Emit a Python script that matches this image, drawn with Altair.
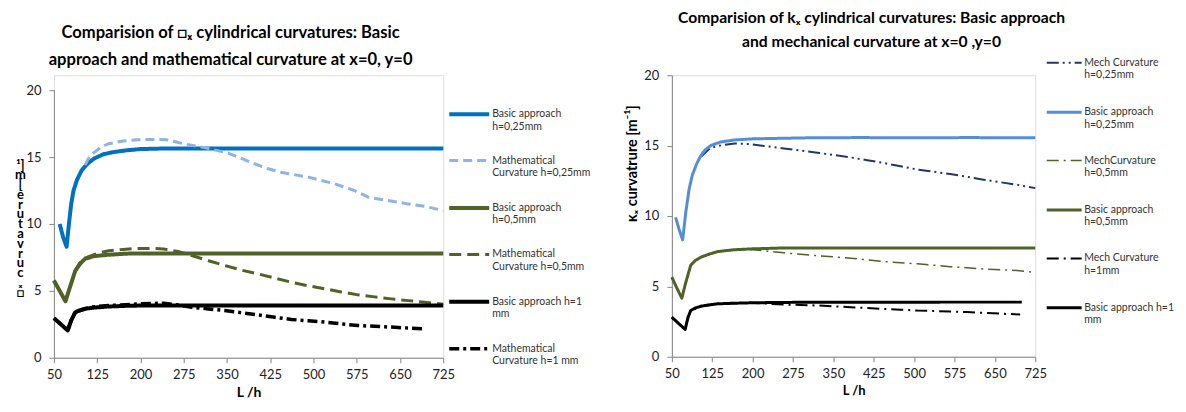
import altair as alt
import pandas as pd

FONT = "Lato"

# ---------------- Left panel: basic approach vs mathematical curvature ----------------
left_names = [
    "Basic approach|h=0,25mm",
    "Mathematical|Curvature h=0,25mm",
    "Basic approach|h=0,5mm",
    "Mathematical|Curvature h=0,5mm",
    "Basic approach  h=1|mm",
    "Mathematical|Curvature h=1 mm",
]
left_colors = ["#0070C0", "#8DB4E2", "#4F6228", "#4F6228", "#000000", "#000000"]
left_dashes = [[1, 0], [9, 5], [1, 0], [12, 6], [1, 0], [10, 4, 3, 4]]
left_widths = [4, 3, 4, 3, 4, 3.5]

lb025_L = [60, 66, 72, 76, 80, 84, 90, 98, 108, 120, 135, 150, 175, 200, 250, 300, 400, 500, 600, 725]
lb025_k = [10.0, 9.0, 8.3, 10.0, 11.5, 12.5, 13.3, 14.0, 14.5, 14.9, 15.2, 15.35, 15.5, 15.6, 15.65, 15.65, 15.65, 15.65, 15.65, 15.65]

lm025_L = [104, 110, 116, 130, 145, 170, 194, 220, 245, 274, 300, 317, 352, 375, 398, 420, 445, 491, 537, 571, 595, 629, 664, 695, 725]
lm025_k = [14.4, 14.9, 15.2, 15.7, 16.0, 16.2, 16.3, 16.32, 16.3, 16.0, 15.8, 15.65, 15.3, 14.9, 14.5, 14.15, 13.85, 13.5, 13.0, 12.5, 12.0, 11.75, 11.5, 11.3, 11.0]

lb05_L = [50, 60, 70, 78, 87, 95, 104, 120, 145, 175, 200, 300, 400, 500, 600, 725]
lb05_k = [5.77, 5.0, 4.22, 5.3, 6.5, 7.0, 7.4, 7.6, 7.7, 7.78, 7.8, 7.8, 7.8, 7.8, 7.8, 7.8]

lm05_L = [50, 60, 70, 78, 87, 95, 104, 116, 130, 145, 170, 194, 220, 240, 265, 289, 318, 346, 375, 404, 433, 462, 491, 520, 548, 577, 606, 635, 664, 693, 725]
lm05_k = [5.77, 5.0, 4.22, 5.3, 6.5, 7.1, 7.45, 7.65, 7.85, 8.0, 8.1, 8.17, 8.17, 8.13, 7.95, 7.64, 7.25, 6.9, 6.55, 6.27, 5.95, 5.64, 5.38, 5.15, 4.92, 4.7, 4.55, 4.4, 4.27, 4.15, 4.0]

lb1_L = [50, 62, 74, 80, 87, 95, 104, 120, 145, 175, 200, 300, 400, 500, 600, 725]
lb1_k = [2.96, 2.5, 2.04, 2.8, 3.4, 3.55, 3.66, 3.75, 3.83, 3.88, 3.9, 3.9, 3.9, 3.9, 3.9, 3.9]

lm1_L = [50, 62, 74, 80, 87, 104, 116, 145, 175, 202, 240, 265, 289, 318, 346, 375, 404, 433, 462, 491, 520, 548, 577, 606, 635, 664, 695]
lm1_k = [2.96, 2.5, 2.04, 2.8, 3.4, 3.66, 3.8, 3.9, 3.97, 4.03, 4.08, 3.95, 3.78, 3.65, 3.53, 3.36, 3.2, 3.02, 2.86, 2.76, 2.66, 2.53, 2.41, 2.35, 2.29, 2.22, 2.16]

left_L = [lb025_L, lm025_L, lb05_L, lm05_L, lb1_L, lm1_L]
left_k = [lb025_k, lm025_k, lb05_k, lm05_k, lb1_k, lm1_k]

# ---------------- Right panel: basic approach vs mechanical curvature ----------------
right_names = [
    "Mech Curvature|h=0,25mm",
    "Basic approach|h=0,25mm",
    "MechCurvature|h=0,5mm",
    "Basic approach|h=0,5mm",
    "Mech Curvature|h=1mm",
    "Basic approach  h=1|mm",
]
right_colors = ["#1F3864", "#558ED5", "#4F6228", "#4F6228", "#000000", "#000000"]
right_dashes = [[12, 4, 2, 4, 2, 4], [1, 0], [12, 5, 2, 5], [1, 0], [12, 5, 2, 5], [1, 0]]
right_widths = [2, 3, 1.5, 3, 2, 3]

rm025_L = [104, 122, 145, 167, 196, 227, 258, 289, 320, 351, 382, 413, 444, 475, 506, 537, 567, 598, 629, 660, 691, 725]
rm025_k = [14.2, 14.85, 15.05, 15.15, 15.1, 14.95, 14.8, 14.65, 14.5, 14.33, 14.16, 13.96, 13.76, 13.53, 13.3, 13.14, 12.98, 12.78, 12.58, 12.4, 12.22, 11.98]

rb025_L = [57, 63, 70, 76, 82, 88, 96, 104, 112, 122, 140, 166, 200, 227, 300, 400, 500, 600, 725]
rb025_k = [9.9, 9.1, 8.3, 10.3, 11.9, 12.9, 13.7, 14.3, 14.7, 15.0, 15.25, 15.4, 15.48, 15.5, 15.55, 15.57, 15.55, 15.57, 15.55]

rm05_L = [50, 59, 68.5, 76, 85, 104, 135, 165, 196, 227, 258, 289, 320, 351, 382, 413, 444, 475, 506, 537, 567, 598, 629, 660, 691, 725]
rm05_k = [5.65, 4.9, 4.16, 5.3, 6.5, 7.07, 7.45, 7.58, 7.62, 7.5, 7.38, 7.28, 7.18, 7.09, 7.0, 6.88, 6.76, 6.68, 6.6, 6.5, 6.4, 6.32, 6.24, 6.18, 6.12, 6.0]

rb05_L = [50, 59, 68.5, 76, 85, 94, 104, 120, 135, 165, 196, 250, 350, 450, 550, 650, 725]
rb05_k = [5.65, 4.9, 4.16, 5.3, 6.5, 6.85, 7.07, 7.3, 7.47, 7.6, 7.66, 7.72, 7.73, 7.73, 7.73, 7.73, 7.73]

rm1_L = [50, 62, 74.7, 80, 85, 104, 135, 165, 196, 227, 258, 289, 320, 351, 382, 413, 444, 475, 506, 537, 567, 598, 629, 660, 697]
rm1_k = [2.81, 2.38, 1.94, 2.8, 3.28, 3.59, 3.76, 3.8, 3.83, 3.77, 3.71, 3.68, 3.64, 3.58, 3.52, 3.46, 3.4, 3.34, 3.28, 3.25, 3.21, 3.17, 3.12, 3.06, 3.0]

rb1_L = [50, 62, 74.7, 80, 85, 94, 104, 120, 135, 165, 196, 250, 350, 450, 550, 650, 700]
rb1_k = [2.81, 2.38, 1.94, 2.8, 3.28, 3.47, 3.59, 3.69, 3.76, 3.8, 3.83, 3.86, 3.87, 3.87, 3.88, 3.88, 3.88]

right_L = [rm025_L, rb025_L, rm05_L, rb05_L, rm1_L, rb1_L]
right_k = [rm025_k, rb025_k, rm05_k, rb05_k, rm1_k, rb1_k]

x_ticks = [50, 125, 200, 275, 350, 425, 500, 575, 650, 725]
y_ticks = [0, 5, 10, 15, 20]


def long_table(names, Ls, ks):
    rows = []
    for i, (n, xs, ys) in enumerate(zip(names, Ls, ks)):
        for x, y in zip(xs, ys):
            rows.append({"series": n, "L": x, "k": y, "draw": i})
    return pd.DataFrame(rows)


def panel(df, names, colors, dashes, widths, width, height, y_range, title, title_size, title_lh,
          title_offset, ytitle, ytitle_opts, xtitle_size, legend_x, legend_y, row_pad, sym_len, title_dx,
          legend_font):
    leg = dict(
        title=None, orient="none", legendX=legend_x, legendY=legend_y,
        symbolType="stroke", symbolSize=sym_len * sym_len,
        labelExpr="split(datum.label, '|')", labelFont=FONT, labelFontSize=legend_font,
        labelColor="#333333", labelLimit=300, rowPadding=row_pad, labelOffset=1,
        labelBaseline="middle", padding=0,
    )
    axis_common = dict(
        grid=False, domainColor="#868686", tickColor="#868686", labelFont=FONT,
        labelFontSize=13, labelColor="#222222", titleFont=FONT, titleColor="#000000",
        titleFontWeight="bold", tickSize=5, labelFlush=False,
    )
    x = alt.X("L:Q", scale=alt.Scale(domain=[50, 725], nice=False, zero=False),
              axis=alt.Axis(values=x_ticks, title="L /h", titleFontSize=xtitle_size,
                            labelPadding=6, titlePadding=4, **axis_common))
    y = alt.Y("k:Q", scale=alt.Scale(domain=[0, 20], nice=False, range=y_range),
              axis=alt.Axis(values=y_ticks, title=ytitle, labelPadding=8, **ytitle_opts, **axis_common))
    ch = alt.Chart(df).mark_line(strokeJoin="round").encode(
        x=x,
        y=y,
        color=alt.Color("series:N", scale=alt.Scale(domain=names, range=colors), legend=alt.Legend(**leg)),
        strokeDash=alt.StrokeDash("series:N", scale=alt.Scale(domain=names, range=dashes), legend=alt.Legend(**leg)),
        strokeWidth=alt.StrokeWidth("series:N", scale=alt.Scale(type="ordinal", domain=names, range=widths),
                                    legend=alt.Legend(**leg)),
    ).properties(
        width=width, height=height,
        title=alt.Title(title, font=FONT, fontSize=title_size, fontWeight="bold", lineHeight=title_lh,
                        anchor="middle", frame="group", dx=title_dx, color="#000000", offset=title_offset),
    )
    return ch


left_df = long_table(left_names, left_L, left_k)
right_df = long_table(right_names, right_L, right_k)

left_ytitle = ["¹]", "m", "[", "e", "r", "u", "t", "a", "v", "r", "u", "c", "ₓ", "□"]
left = panel(
    left_df, left_names, left_colors, left_dashes, left_widths, 390, 283, [283, 15],
    ["Comparision of □ₓ cylindrical curvatures: Basic", "approach  and mathematical curvature at x=0, y=0"],
    16.6, 27, 7, left_ytitle,
    dict(titleAngle=0, titleFontSize=13, titleLineHeight=9.8, titleX=-34, titleY=84, titleAlign="center",
         titleBaseline="top"),
    14, 394, 17, 7, 40, -18, 10.5,
)
right = panel(
    right_df, right_names, right_colors, right_dashes, right_widths, 364, 282, [282, 0],
    ["Comparision of  kₓ cylindrical curvatures: Basic approach", "and mechanical  curvature at x=0 ,y=0"],
    15.7, 24, -6, "κₓ curvatrure [m⁻¹]",
    dict(titleFontSize=14.5, titleX=-39, titleY=88, titleAngle=270, titleAlign="center", titleBaseline="middle"),
    13, 374, -31, 12, 35, 18, 10.5,
)

chart = alt.hconcat(left, right, spacing=32).resolve_scale(
    color="independent", strokeDash="independent", strokeWidth="independent"
).resolve_legend(color="independent", strokeDash="independent", strokeWidth="independent").configure_view(
    stroke=None
).configure(padding={"left": 6, "top": 0, "right": 0, "bottom": -1})

chart.save("out.html", embed_options={"renderer": "svg", "actions": False})
